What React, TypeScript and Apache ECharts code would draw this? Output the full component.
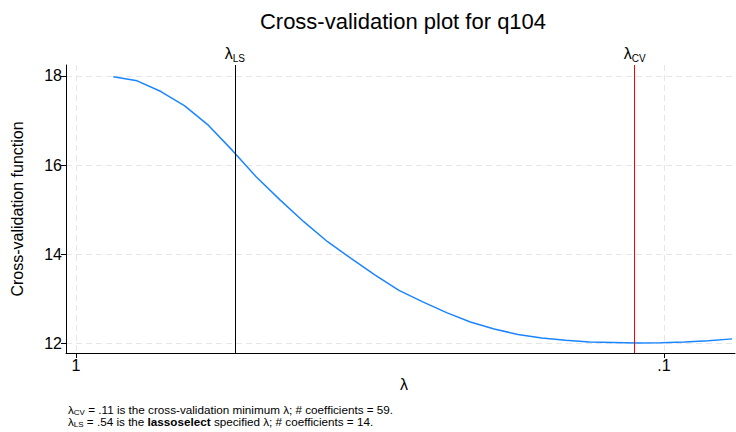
import React, { useEffect, useRef } from "react";
import * as echarts from "echarts";

const titleText = "Cross-validation plot for q104";
const yAxisTitle = "Cross-validation function";
const xAxisTitle = "λ";

// lambda grid (raw values) and CV function values
const lambdas = [
  0.8641, 0.7871, 0.7171, 0.6533, 0.5951, 0.5421, 0.4939, 0.4499, 0.4099,
  0.3734, 0.3402, 0.3099, 0.2823, 0.2572, 0.2343, 0.2135, 0.1945, 0.1772,
  0.1614, 0.147, 0.1339, 0.122, 0.1112, 0.1013, 0.0923, 0.0841, 0.0766,
];
const cvValues = [
  17.98, 17.89, 17.65, 17.33, 16.89, 16.33, 15.74, 15.22, 14.73, 14.28,
  13.9, 13.53, 13.19, 12.93, 12.69, 12.48, 12.32, 12.2, 12.12, 12.07, 12.03,
  12.02, 12.01, 12.015, 12.03, 12.06, 12.1,
];

const lambdaLS = 0.5421;
const lambdaCV = 0.1112;

const xTickLambdas = [1, 0.1];
const xTickLabels = ["1", ".1"];
const yTicks = [12, 14, 16, 18];

const FONT = '"Liberation Sans", Arial, Helvetica, sans-serif';

export default function App() {
  const ref = useRef<HTMLDivElement>(null);

  useEffect(() => {
    if (!ref.current) return;
    const chart = echarts.init(ref.current, null, { renderer: "svg" });
    const data = lambdas.map((l, i) => [Math.log10(l), cvValues[i]]);
    const xTickVals = xTickLambdas.map((l) => Math.log10(l));

    const lamLabel = (sub: string) => ({
      show: true,
      position: "end",
      distance: 4,
      formatter: `{l|λ}{s|${sub}}`,
      rich: {
        l: { fontSize: 16, color: "#000", fontFamily: FONT, lineHeight: 18, verticalAlign: "bottom" },
        s: { fontSize: 10, color: "#000", fontFamily: FONT, lineHeight: 18, verticalAlign: "bottom", padding: [0, 0, -2, 0] },
      },
    });

    const footRich = {
      l: { fontSize: 11.7, fontFamily: FONT, fill: "#000", color: "#000", lineHeight: 12, verticalAlign: "bottom" },
      s: { fontSize: 8, fontFamily: FONT, fill: "#000", color: "#000", lineHeight: 12, verticalAlign: "bottom", padding: [0, 0, -1, 0] },
      n: { fontSize: 11.7, fontFamily: FONT, fill: "#000", color: "#000", lineHeight: 12, verticalAlign: "bottom" },
      b: { fontSize: 11.7, fontFamily: FONT, fontWeight: "bold", fill: "#000", color: "#000", lineHeight: 12, verticalAlign: "bottom" },
    };

    chart.setOption({
      animation: false,
      textStyle: { fontFamily: FONT },
      grid: { left: 66, right: 1, top: 65, bottom: 79, containLabel: false },
      xAxis: {
        type: "value",
        inverse: true,
        min: -1.1207,
        max: 0.017,
        axisLine: { show: true, onZero: false, lineStyle: { color: "#000", width: 1 } },
        axisTick: {
          show: true,
          length: 5,
          customValues: xTickVals,
          lineStyle: { color: "#000" },
        },
        axisLabel: {
          customValues: xTickVals,
          color: "#000",
          fontSize: 16,
          margin: 4,
          fontFamily: FONT,
          formatter: (v: number) => {
            const idx = xTickVals.findIndex((t) => Math.abs(t - v) < 1e-6);
            return idx >= 0 ? xTickLabels[idx] : "";
          },
        },
        splitLine: {
          show: true,
          lineStyle: { color: "#e6e6e6", type: [6, 4], width: 1 },
        },
      },
      yAxis: {
        type: "value",
        min: 11.783,
        max: 18.246,
        axisLine: { show: true, onZero: false, lineStyle: { color: "#000", width: 1 } },
        axisTick: {
          show: true,
          length: 5,
          customValues: yTicks,
          lineStyle: { color: "#000" },
        },
        axisLabel: {
          customValues: yTicks,
          color: "#000",
          fontSize: 16,
          margin: 4,
          fontFamily: FONT,
        },
        splitLine: {
          show: true,
          lineStyle: { color: "#e6e6e6", type: [6, 4], width: 1 },
        },
      },
      series: [
        {
          type: "line",
          data,
          showSymbol: false,
          symbol: "none",
          lineStyle: { color: "rgb(26,133,255)", width: 1.5 },
          silent: true,
          markLine: {
            silent: true,
            symbol: "none",
            animation: false,
            data: [
              {
                xAxis: Math.log10(lambdaLS),
                lineStyle: { color: "#000", type: "solid", width: 1 },
                label: lamLabel("LS"),
              },
              {
                xAxis: Math.log10(lambdaCV),
                lineStyle: { color: "#ff0000", type: "solid", width: 1 },
                label: lamLabel("CV"),
              },
            ],
          },
        },
      ],
      graphic: [
        {
          type: "text",
          x: 403,
          y: 21,
          style: {
            text: titleText,
            fontSize: 22,
            fontFamily: FONT,
            fill: "#000",
            align: "center",
            verticalAlign: "middle",
          },
        },
        {
          type: "text",
          x: 17,
          y: 209,
          rotation: Math.PI / 2,
          style: {
            text: yAxisTitle,
            fontSize: 16,
            fontFamily: FONT,
            fill: "#000",
            align: "center",
            verticalAlign: "middle",
          },
        },
        {
          type: "text",
          x: 404,
          y: 384,
          style: {
            text: xAxisTitle,
            fontSize: 16,
            fontFamily: FONT,
            fill: "#000",
            align: "center",
            verticalAlign: "middle",
          },
        },
        {
          type: "text",
          x: 68,
          y: 403,
          style: {
            text:
              "{l|λ}{s|CV}{n| = .11 is the cross-validation minimum λ; # coefficients = 59.}\n" +
              "{l|λ}{s|LS}{n| = .54 is the }{b|lassoselect}{n| specified λ; # coefficients = 14.}",
            verticalAlign: "top",
            rich: footRich,
          },
        },
      ],
    });
    return () => chart.dispose();
  }, []);

  return (
    <div
      ref={ref}
      style={{ position: "fixed", left: 0, top: 0, width: 736, height: 432, background: "#fff" }}
    />
  );
}
